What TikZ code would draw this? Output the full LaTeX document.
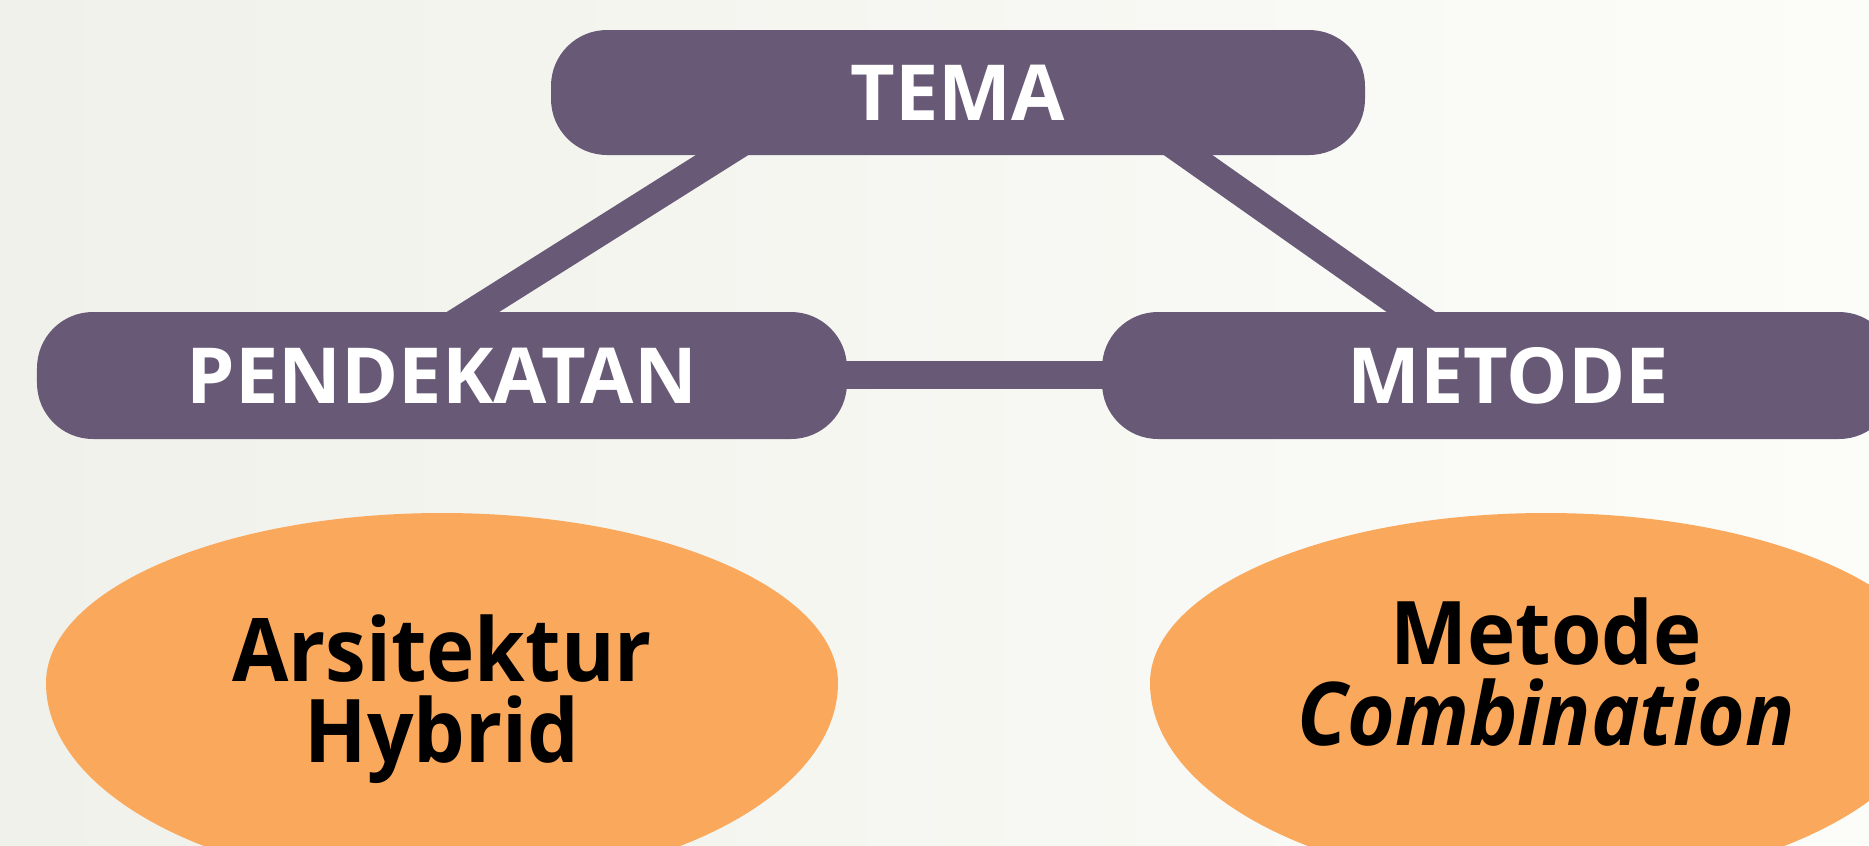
\documentclass[tikz,border=0pt]{standalone}
\usepackage{fontspec}
\setmainfont{Open Sans}
\newfontfamily\ovalfont{Open Sans}[FakeStretch=0.93]
\usetikzlibrary{shapes.geometric,calc,backgrounds}
\pgfdeclarelayer{back}
\pgfsetlayers{back,background,main}
\definecolor{purp}{RGB}{104,90,119}
\definecolor{orng}{RGB}{250,168,92}
\definecolor{bgl}{RGB}{241,241,235}
\definecolor{bgr}{RGB}{252,252,249}
\tikzset{
  pill/.style={rectangle, fill=purp, rounded corners=0.56cm, inner sep=0pt, text=white,
    font=\fontsize{22}{26}\selectfont\bfseries},
  oval/.style={ellipse, inner sep=0pt, minimum width=7.92cm, minimum height=3.4cm},
  ovaltext/.style={align=center, text=black, inner sep=0pt,
    font=\ovalfont\fontsize{25}{23.2}\selectfont\bfseries},
  bar/.style={purp, line width=0.28cm}
}
% fill of an egg-shaped oval node (flatter top half)
\newcommand\ovalfill[1]{%
  \fill[orng] ([xshift=-3.96cm]#1.center)
    arc[start angle=180, end angle=0, x radius=3.96cm, y radius=1.70cm]
    arc[start angle=0, end angle=-180, x radius=3.96cm, y radius=2.04cm] -- cycle;}
\begin{document}
\begin{tikzpicture}
\useasboundingbox (0,0) rectangle (18.69,-8.45);
\clip (0,0) rectangle (18.69,-8.45);
\begin{pgfonlayer}{back}
\shade[left color=bgl, right color=bgr] (0,0) rectangle (18.69,-8.45);
\end{pgfonlayer}
\node[pill, minimum width=8.14cm, minimum height=1.25cm] (tema) at (9.58,-0.925) {TEMA};
\node[pill, minimum width=8.10cm, minimum height=1.27cm] (pend) at (4.42,-3.755) {PENDEKATAN};
\node[pill, minimum width=7.93cm, minimum height=1.27cm] (met) at (14.985,-3.755) {\hspace{0.19cm}METODE};
\node[oval, label={[ovaltext, yshift=-0.16cm]center:Arsitektur\\Hybrid}] (arsi) at (4.42,-6.83) {};
\node[oval, label={[ovaltext, yshift=0.11cm]center:Metode\\\itshape Combination}] (comb) at (15.46,-6.83) {};
\begin{pgfonlayer}{background}
  \coordinate (a1) at ([xshift=-2.37cm]tema.south);
  \coordinate (b1) at ([xshift=0.32cm]pend.north);
  \coordinate (a2) at ([xshift=2.31cm]tema.south);
  \coordinate (b2) at ([xshift=-0.885cm]met.north);
  \draw[bar] ($(a1)!-0.2!(b1)$) -- ($(b1)!-0.2!(a1)$);
  \draw[bar] ($(a2)!-0.2!(b2)$) -- ($(b2)!-0.2!(a2)$);
  \draw[bar] ([yshift=0.01cm]pend.center) -- ([yshift=0.01cm]met.center);
  \ovalfill{arsi}
  \ovalfill{comb}
\end{pgfonlayer}
\end{tikzpicture}
\end{document}
